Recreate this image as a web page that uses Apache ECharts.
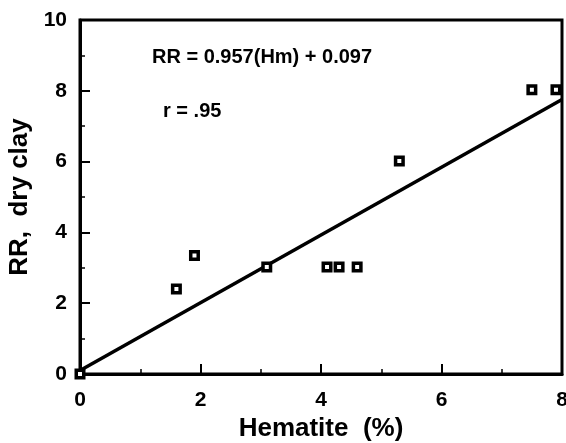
<!DOCTYPE html>
<html><head><meta charset="utf-8">
<script src="https://cdn.jsdelivr.net/npm/echarts@6/dist/echarts.min.js"></script>
<style>html,body{margin:0;padding:0;background:#fff}#c{width:566px;height:443px}</style>
</head><body><div id="c"></div>
<script>
const hematite = [0, 1.6, 1.9, 3.1, 4.1, 4.3, 4.6, 5.3, 7.5, 7.9];
const rrDryClay = [0, 2.4, 3.35, 3.02, 3.02, 3.02, 3.02, 6.02, 8.03, 8.03];
const fitSlope = 0.957, fitIntercept = 0.097;
const fitX = [0, 8];
const xTicks = [0, 2, 4, 6, 8];
const yTicks = [0, 2, 4, 6, 8, 10];
const equationText = 'RR = 0.957(Hm) + 0.097';
const rText = 'r = .95';
const xName = 'Hematite  (%)';
const yName = 'RR,  dry clay';

const font = '"Liberation Sans", Arial, Helvetica, sans-serif';
const chart = echarts.init(document.getElementById('c'));
const pts = hematite.map((x, i) => [x, rrDryClay[i]]);
const fit = fitX.map(x => [x, fitSlope * x + fitIntercept]);
const axisCommon = {
  axisLine: { show: true, lineStyle: { color: '#000', width: 3 } },
  axisTick: { show: true, inside: true, length: 10, lineStyle: { color: '#000', width: 2 } },
  minorTick: { show: true, splitNumber: 2, length: 5, lineStyle: { color: '#000', width: 1.5 } },
  splitLine: { show: false },
  axisLabel: { color: '#000', fontFamily: font, fontWeight: 'bold', fontSize: 21 },
  nameTextStyle: { color: '#000', fontFamily: font, fontWeight: 'bold', fontSize: 26 }
};
chart.setOption({
  animation: false,
  grid: { left: 80, top: 20, right: 4, bottom: 69, show: true, borderColor: '#000', borderWidth: 3,
          containLabel: false, outerBoundsMode: 'none' },
  xAxis: Object.assign({}, axisCommon, {
    type: 'value', min: 0, max: 8, interval: 2,
    axisLabel: Object.assign({}, axisCommon.axisLabel, { margin: 16, formatter: v => xTicks.includes(v) ? String(v) : '' }),
    name: xName, nameLocation: 'middle', nameGap: 41
  }),
  yAxis: Object.assign({}, axisCommon, {
    type: 'value', min: 0, max: 10, interval: 2,
    axisLabel: Object.assign({}, axisCommon.axisLabel, { margin: 13, padding: [8, 0, 0, 0], formatter: v => yTicks.includes(v) ? String(v) : '' }),
    name: yName, nameLocation: 'middle', nameGap: 47
  }),
  graphic: [
    { type: 'text', left: 152, top: 47, style: { text: equationText, font: 'bold 20px ' + font, fill: '#000' } },
    { type: 'text', left: 163, top: 101, style: { text: rText, font: 'bold 20px ' + font, fill: '#000' } }
  ],
  series: [
    { type: 'line', data: fit, symbol: 'none', lineStyle: { color: '#000', width: 3.5 }, z: 2 },
    { type: 'scatter', data: pts, symbol: 'rect', symbolSize: 7.5,
      itemStyle: { color: '#fff', borderColor: '#000', borderWidth: 3.5, opacity: 1 }, z: 3 }
  ]
});
</script></body></html>
